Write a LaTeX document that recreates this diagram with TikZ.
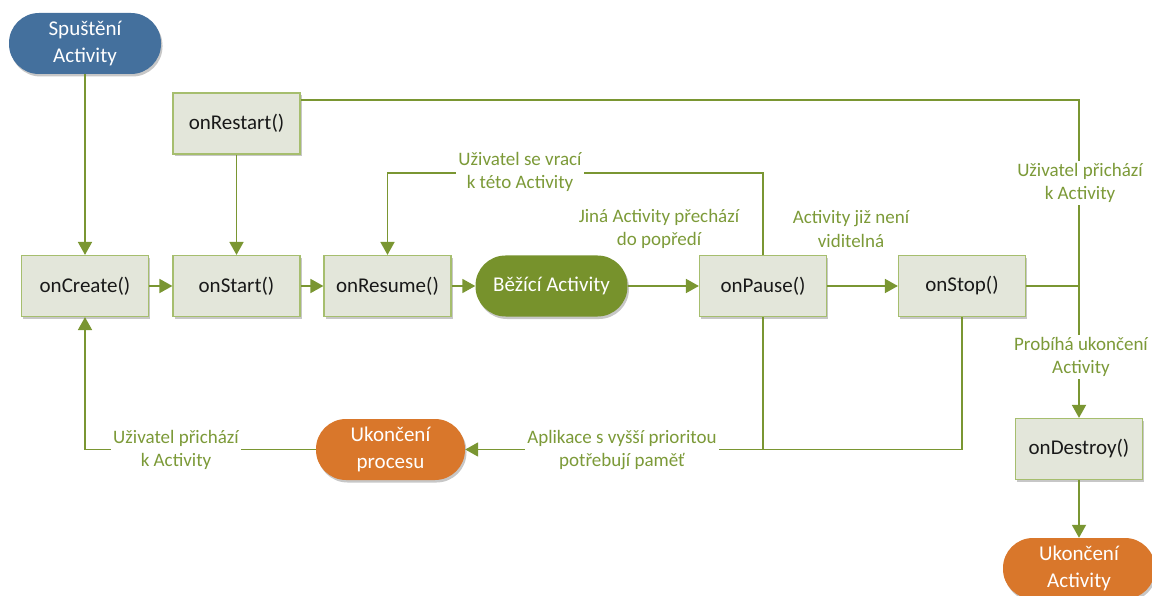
\documentclass[tikz,border=0pt]{standalone}
\usepackage{fontspec}
\setmainfont{Carlito}
\usetikzlibrary{arrows.meta,shadows}
\definecolor{lineG}{HTML}{7A9632}
\definecolor{textG}{HTML}{7C9A38}
\definecolor{boxF}{HTML}{E3E6DA}
\definecolor{boxB}{HTML}{A6BE6E}
\definecolor{blueF}{HTML}{44709D}
\definecolor{greenF}{HTML}{77922C}
\definecolor{orangeF}{HTML}{D9772B}
\begin{document}
\begin{tikzpicture}[x=1pt,y=-1pt,
  every node/.style={font=\fontsize{21}{26.5}\selectfont},
  shade/.style={drop shadow={shadow xshift=1.5pt,shadow yshift=-2.5pt,opacity=0.22,fill=black}},
  box/.style={draw=boxB,line width=1.2pt,fill=boxF,minimum width=127pt,minimum height=61pt,inner sep=0pt,text=black!90,shade},
  pill/.style={rectangle,rounded corners=30pt,minimum width=152pt,minimum height=61pt,inner sep=0pt,align=center,text=white,shade},
  lbl/.style={text=textG,fill=white,align=center,inner sep=2pt,font=\fontsize{19}{23.5}\selectfont},
  line/.style={draw=lineG,line width=1.8pt},
  conn/.style={line,-{Triangle[length=13pt,width=14pt]}}]
\useasboundingbox (0,0) rectangle (1152,596);

% nodes
\node[pill,fill=blueF] (launch) at (85,43.5) {Spuštění\\Activity};
\node[box] (restart) at (236.5,123.5) {onRestart()};
\node[box] (create) at (85,286) {onCreate()};
\node[box] (startN) at (236.5,286) {onStart()};
\node[box] (resume) at (387.5,286) {onResume()};
\node[pill,fill=greenF] (running) at (551.5,286) {Běžící Activity};
\node[box] (pause) at (763,286) {onPause()};
\node[box] (stop) at (962,286) {onStop()};
\node[box] (destroy) at (1079,449) {onDestroy()};
\node[pill,fill=orangeF,minimum width=149pt] (proc) at (390.5,449.5) {Ukončení\\procesu};
\node[pill,fill=orangeF] (endAct) at (1079,568.5) {Ukončení\\Activity};

% junction points
\coordinate (rtop) at (387.5,173);
\coordinate (jR) at (1079,286);
\coordinate (jT) at (1079,100);

% connectors
\draw[conn] (launch) -- (create);
\draw[conn] (restart) -- (startN);
\draw[conn] (create) -- (startN);
\draw[conn] (startN) -- (resume);
\draw[conn] (resume) -- (running);
\draw[conn] (running) -- (pause);
\draw[conn] (pause) -- (stop);
\draw[conn] (pause.north) |- (rtop) -- (resume.north);
\draw[line] (stop.east) -- (jR) -- (jT) -- (restart.east |- jT);
\draw[conn] (jR) -- (destroy.north);
\draw[conn] (destroy) -- (endAct);
\draw[line] (pause.south) -- (pause.south |- proc.east);
\draw[conn] (stop.south) |- (proc.east);
\draw[conn] (proc.west) -| (create.south);

% labels
\node[lbl] (lReturn) at (520,172) {Uživatel se vrací\\k této Activity};
\node[lbl,fill=none] (lOther) at (659,229) {Jiná Activity přechází\\do popředí};
\node[lbl,fill=none] (lHidden) at (851,229) {Activity již není\\viditelná};
\node[lbl] (lComes) at (1080,183) {Uživatel přichází\\k Activity};
\node[lbl] (lEnding) at (1081,357) {Probíhá ukončení\\Activity};
\node[lbl] (lMemory) at (622,450) {Aplikace s vyšší prioritou\\potřebují paměť};
\node[lbl] (lBack) at (176,450) {Uživatel přichází\\k Activity};
\end{tikzpicture}
\end{document}
